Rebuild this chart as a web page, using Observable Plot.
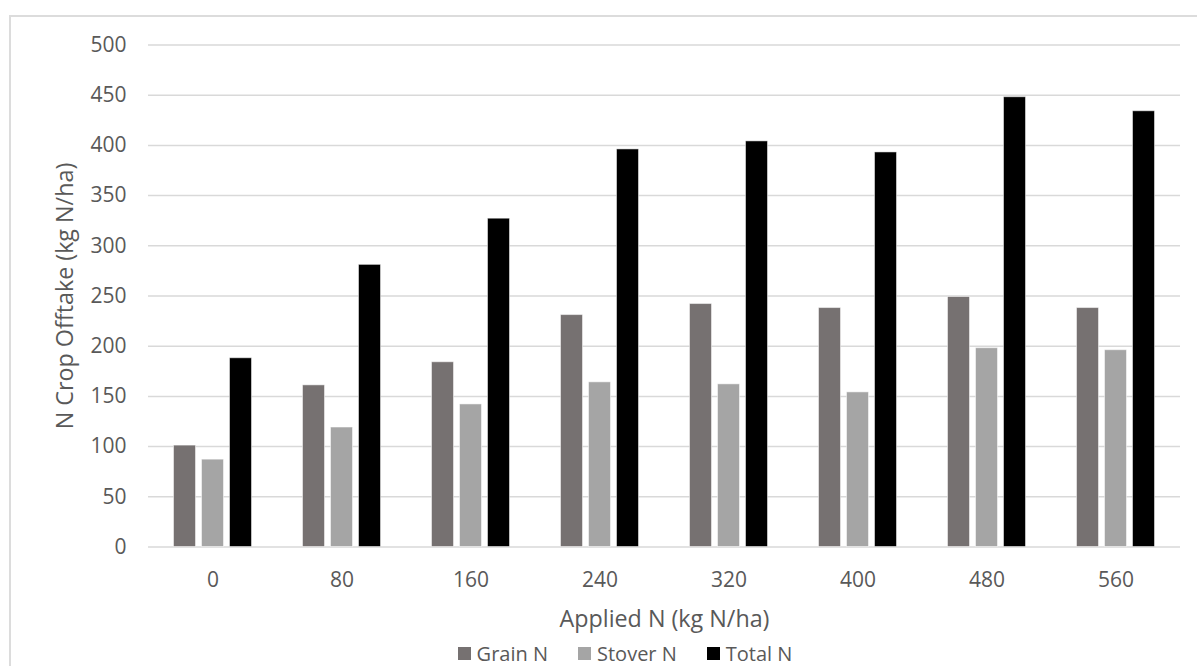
<!DOCTYPE html>
<html>
<head>
<meta charset="utf-8">
<script src="https://cdn.jsdelivr.net/npm/d3@7"></script>
<script src="https://cdn.jsdelivr.net/npm/@observablehq/plot@0.6"></script>
<style>
  html, body { margin: 0; padding: 0; background: #fff; }
  body { width: 1197px; height: 666px; overflow: hidden; position: relative; font-family: "Open Sans", sans-serif; }
  #frame { position: absolute; left: 9px; top: 15px; width: 1400px; height: 900px; border: 2px solid #dcdcdc; box-sizing: border-box; pointer-events: none; }
  #chart svg { display: block; }
  g[aria-label="y-axis label"] text, g[aria-label="fx-axis label"] text { font-size: 23.3px; }
  #legend { display: flex; justify-content: center; padding-left: 53px; margin-top: 4px; }
  #legend .lg-swatches, #legend div { font-family: "Open Sans", sans-serif !important; font-size: 20px !important; color: #595959 !important; margin: 0 !important; min-height: 0 !important; }
  #legend .lg-swatch { margin-right: 30px !important; }
  #legend .lg-swatch:last-child { margin-right: 0 !important; }
  #legend .lg-swatch svg { margin-right: 6px !important; }
</style>
</head>
<body>
<div id="chart"></div>
<div id="legend"></div>
<div id="frame"></div>
<script>
const applied = ["0", "80", "160", "240", "320", "400", "480", "560"];
const seriesNames = ["Grain N", "Stover N", "Total N"];
const grainN  = [101, 161, 184, 231, 242, 238, 249, 238];
const stoverN = [87, 119, 142, 164, 162, 154, 198, 196];
const totalN  = [188, 281, 327, 396, 404, 393, 448, 434];
const seriesColors = ["#767171", "#a5a5a5", "#000000"];
const yTicks = [0, 50, 100, 150, 200, 250, 300, 350, 400, 450, 500];

const seriesValues = [grainN, stoverN, totalN];
const data = applied.flatMap((a, i) =>
  seriesNames.map((s, j) => ({applied: a, series: s, value: seriesValues[j][i]}))
);

const H = 636;
const chart = Plot.plot({
  width: 1197,
  height: H,
  marginLeft: 147.5,
  marginRight: 17.5,
  marginTop: 44.5,
  marginBottom: H - 546.5,
  style: {fontFamily: "Open Sans, sans-serif", fontSize: "21px", color: "#595959", background: "transparent"},
  fx: {domain: applied, padding: 0, label: "Applied N (kg N/ha)", labelAnchor: "center", labelOffset: 79.5, tickSize: 0, tickPadding: 25, labelArrow: "none"},
  x: {domain: seriesNames, axis: null, paddingInner: 0.2, paddingOuter: 0.845},
  y: {domain: [0, 500], ticks: yTicks, label: "N Crop Offtake (kg N/ha)", labelAnchor: "center", labelOffset: 92.5, tickSize: 0, tickPadding: 22, labelArrow: "none"},
  color: {domain: seriesNames, range: seriesColors},
  marks: [
    Plot.gridY(yTicks, {stroke: "#d9d9d9", strokeOpacity: 1, strokeWidth: 1.5}),
    Plot.barY(data, {fx: "applied", x: "series", y: "value", fill: "series", stroke: "#ffffff", strokeOpacity: 0.5, strokeWidth: 1})
  ]
});
document.getElementById("chart").appendChild(chart);

const legend = Plot.legend({
  legend: "swatches",
  color: {domain: seriesNames, range: seriesColors},
  swatchSize: 13,
  className: "lg"
});
document.getElementById("legend").appendChild(legend);
</script>
</body>
</html>
